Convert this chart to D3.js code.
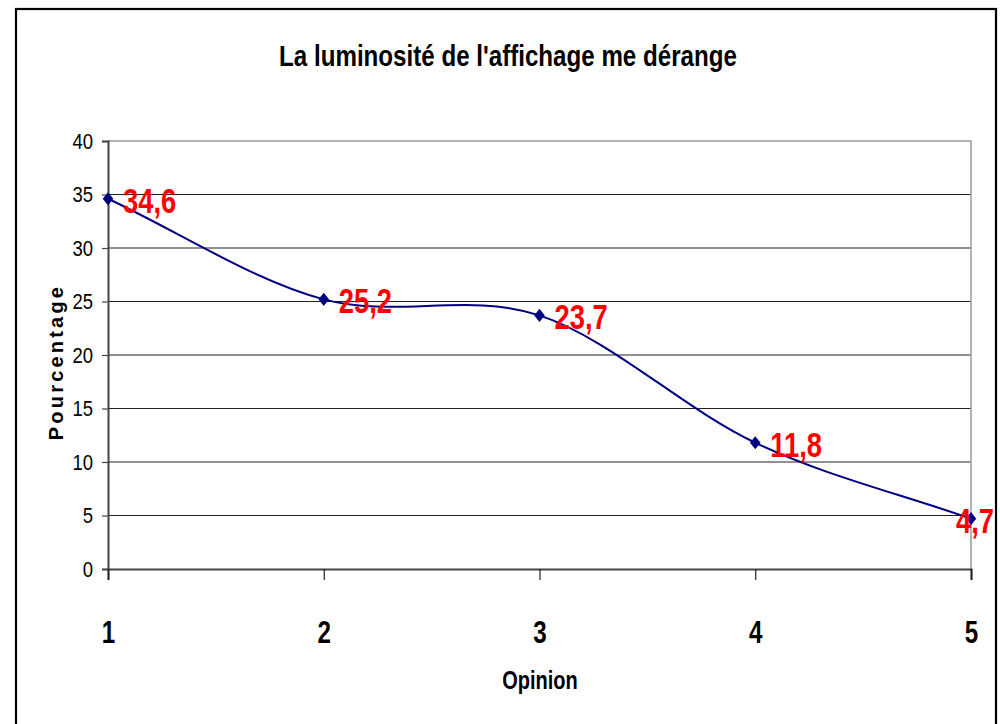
<!DOCTYPE html>
<html>
<head>
<meta charset="utf-8">
<script src="https://cdn.jsdelivr.net/npm/d3@7"></script>
<style>
  html, body { margin: 0; padding: 0; background: #fff; }
  svg { display: block; }
  text { font-family: "Liberation Sans", Arial, sans-serif; }
</style>
</head>
<body>
<svg id="chart" width="1000" height="724"></svg>
<script>
// Survey answers: share of respondents (%) per opinion level
const opinions = [1, 2, 3, 4, 5];
const percentages = [34.6, 25.2, 23.7, 11.8, 4.7];
const valueLabels = ["34,6", "25,2", "23,7", "11,8", "4,7"];
const yTicks = [0, 5, 10, 15, 20, 25, 30, 35, 40];

const svg = d3.select("#chart");
const W = 1000, H = 724;
const plot = { left: 108, right: 971, top: 141, bottom: 569 };

// squeeze text horizontally to get a condensed face
function condense(sel, sx) {
  sel.each(function () {
    const t = d3.select(this);
    const tx = +t.attr("x") || 0, ty = +t.attr("y") || 0;
    t.attr("x", 0).attr("y", 0)
     .attr("transform", `translate(${tx},${ty}) scale(${sx},1)`);
  });
}

svg.append("rect").attr("width", W).attr("height", H).attr("fill", "#fff");

// outer chart frame
svg.append("rect")
  .attr("x", 16).attr("y", 9).attr("width", 980).attr("height", 740)
  .attr("fill", "none").attr("stroke", "#000").attr("stroke-width", 2.2);

const x = d3.scaleLinear().domain([1, 5]).range([plot.left, plot.right]);
const y = d3.scaleLinear().domain([0, 40]).range([plot.bottom, plot.top]);

// horizontal grid
svg.append("g")
  .selectAll("line").data(yTicks.filter(d => d > 0 && d < 40)).join("line")
  .attr("x1", plot.left).attr("x2", plot.right)
  .attr("y1", d => y(d)).attr("y2", d => y(d))
  .attr("stroke", "#222").attr("stroke-width", 1);

// plot frame (top and right)
svg.append("path")
  .attr("d", `M${plot.left},${plot.top}H${plot.right}V${plot.bottom}`)
  .attr("fill", "none").attr("stroke", "#9a9a9a").attr("stroke-width", 1.5);

// y axis
const yAxis = svg.append("g")
  .attr("transform", `translate(${plot.left},0)`)
  .call(d3.axisLeft(y).tickValues(yTicks).tickSize(6).tickPadding(9).tickFormat(d3.format("d")));
yAxis.select(".domain").attr("stroke", "#444").attr("stroke-width", 2);
yAxis.selectAll(".tick line").attr("stroke", "#444").attr("stroke-width", 1.2);
yAxis.selectAll(".tick text")
  .attr("font-size", 22).attr("fill", "#000")
  .attr("font-family", "'Liberation Sans', Arial, sans-serif")
  .call(condense, 0.84);

// x axis
const xAxis = svg.append("g")
  .attr("transform", `translate(0,${plot.bottom})`)
  .call(d3.axisBottom(x).tickValues(opinions).tickSize(11).tickPadding(41).tickFormat(d3.format("d")));
xAxis.select(".domain").attr("stroke", "#444").attr("stroke-width", 2.2);
xAxis.selectAll(".tick line").attr("stroke", "#222").attr("stroke-width", 1.2);
xAxis.selectAll(".tick text")
  .attr("font-size", 31).attr("font-weight", "bold").attr("fill", "#000")
  .attr("font-family", "'Liberation Sans', Arial, sans-serif")
  .call(condense, 0.78);

// title
svg.append("text")
  .attr("x", 508).attr("y", 66).attr("text-anchor", "middle")
  .attr("font-size", 30).attr("font-weight", "bold")
  .text("La luminosité de l'affichage me dérange")
  .call(condense, 0.805);

// axis titles
svg.append("text")
  .attr("x", 540).attr("y", 689).attr("text-anchor", "middle")
  .attr("font-size", 25).attr("font-weight", "bold")
  .text("Opinion")
  .call(condense, 0.8);

svg.append("text")
  .attr("transform", "translate(63,362) rotate(-90)")
  .attr("text-anchor", "middle")
  .attr("font-size", 20).attr("font-weight", "bold")
  .attr("letter-spacing", 3.2)
  .text("Pourcentage");

// series
const pts = opinions.map((o, i) => ({ o, v: percentages[i], label: valueLabels[i] }));

// smoothed line: cubic Béziers with Catmull-Rom tangents,
// end tangents taken from the neighbouring segment
function smoothPath(points) {
  const P = points.map(d => [x(d.o), y(d.v)]);
  const n = P.length;
  const at = i => {
    if (i < 0) return [2 * P[0][0] - P[1][0], 2 * P[0][1] - P[1][1]];
    if (i >= n) return [2 * P[n - 1][0] - P[n - 2][0], 2 * P[n - 1][1] - P[n - 2][1]];
    return P[i];
  };
  const p = d3.path();
  p.moveTo(P[0][0], P[0][1]);
  for (let i = 0; i < n - 1; i++) {
    const a = at(i - 1), b = P[i], c = P[i + 1], d = at(i + 2);
    p.bezierCurveTo(
      b[0] + (c[0] - a[0]) / 6, b[1] + (c[1] - a[1]) / 6,
      c[0] - (d[0] - b[0]) / 6, c[1] - (d[1] - b[1]) / 6,
      c[0], c[1]);
  }
  return p.toString();
}

svg.append("path")
  .attr("d", smoothPath(pts))
  .attr("fill", "none").attr("stroke", "#000080").attr("stroke-width", 2);

svg.append("g").selectAll("path").data(pts).join("path")
  .attr("transform", d => `translate(${x(d.o)},${y(d.v)}) scale(1.25,0.9)`)
  .attr("d", d3.symbol(d3.symbolDiamond, 62))
  .attr("fill", "#000080");

// value labels
svg.append("g").selectAll("text").data(pts).join("text")
  .attr("x", (d, i) => i === pts.length - 1 ? x(d.o) - 15 : x(d.o) + 15)
  .attr("y", d => y(d.v) + 14)
  .attr("font-size", 36).attr("font-weight", "bold").attr("fill", "#ff0000")
  .text(d => d.label)
  .call(condense, 0.76);
</script>
</body>
</html>
